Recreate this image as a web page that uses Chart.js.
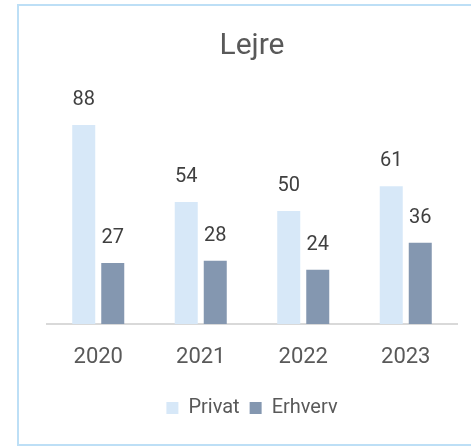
<!DOCTYPE html>
<html>
<head>
<meta charset="utf-8">
<script src="https://cdn.jsdelivr.net/npm/chart.js@4.4.1/dist/chart.umd.min.js"></script>
<style>
  html, body { margin: 0; padding: 0; background: #fff; overflow: hidden; }
  #wrap { position: relative; width: 471px; height: 446px; overflow: hidden; }
  #frame { position: absolute; left: 17px; top: 4px; width: 454px; height: 442px;
           box-sizing: border-box; border: 2px solid #bddff6; border-right: none; }
  #chart { position: absolute; left: 0; top: 0; }
</style>
</head>
<body>
<div id="wrap">
  <div id="frame"></div>
  <canvas id="chart" width="471" height="446"></canvas>
</div>
<script>
const years = ["2020", "2021", "2022", "2023"];
const privat = [88, 54, 50, 61];
const erhverv = [27, 28, 24, 36];

const textColor = "#595959";
const font = "Roboto, 'Open Sans', sans-serif";

// value labels above each bar
const valueLabels = {
    id: "valueLabels",
    afterDatasetsDraw(chart) {
        const ctx = chart.ctx;
        ctx.save();
        ctx.font = "20px " + font;
        ctx.fillStyle = "#404040";
        ctx.textAlign = "center";
        ctx.textBaseline = "middle";
        chart.data.datasets.forEach((ds, i) => {
            chart.getDatasetMeta(i).data.forEach((bar, j) => {
                ctx.fillText(ds.data[j], bar.x, bar.y - 25);
            });
        });
        ctx.restore();
    }
};

new Chart(document.getElementById("chart"), {
    type: "bar",
    data: {
        labels: years,
        datasets: [
            { label: "Privat", data: privat, backgroundColor: "#d7e8f8" },
            { label: "Erhverv", data: erhverv, backgroundColor: "#8497b0" }
        ]
    },
    options: {
        responsive: false,
        animation: false,
        categoryPercentage: 0.566,
        barPercentage: 0.793,
        layout: { padding: { left: 47, right: 14, top: 0, bottom: 18 } },
        scales: {
            x: {
                grid: { display: false },
                border: { display: true, color: "#d9d9d9", width: 2 },
                ticks: { color: textColor, font: { size: 22, family: font }, padding: 12 },
                afterFit(scale) { scale.height = 64; }
            },
            y: {
                display: false,
                min: 0,
                max: 100
            }
        },
        plugins: {
            title: {
                display: true,
                text: "Lejre",
                color: textColor,
                font: { size: 30, family: font, weight: "normal" },
                padding: { top: 28, bottom: 34 }
            },
            legend: {
                position: "bottom",
                labels: {
                    color: textColor,
                    font: { size: 20, family: font },
                    boxWidth: 12,
                    boxHeight: 12,
                    padding: 10
                }
            },
            tooltip: { enabled: false }
        }
    },
    plugins: [valueLabels]
});
</script>
</body>
</html>
